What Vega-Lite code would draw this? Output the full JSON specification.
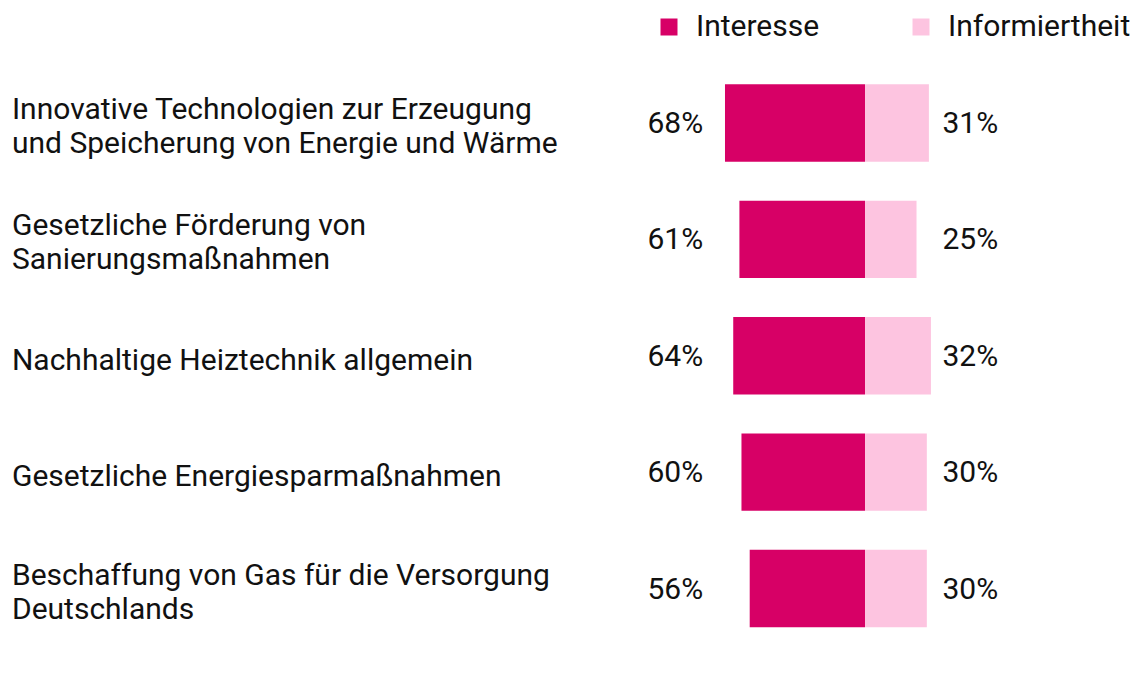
{
  "$schema": "https://vega.github.io/schema/vega-lite/v6.json",
  "width": 1133,
  "height": 677,
  "autosize": "none",
  "padding": 0,
  "background": "white",
  "config": {
    "view": {"stroke": null},
    "font": "Roboto",
    "text": {"font": "Roboto", "color": "#111111"}
  },
  "data": {
    "values": [
      {"cat": "Innovative Technologien zur Erzeugung\nund Speicherung von Energie und Wärme", "series": "Interesse", "value": 68},
      {"cat": "Innovative Technologien zur Erzeugung\nund Speicherung von Energie und Wärme", "series": "Informiertheit", "value": 31},
      {"cat": "Gesetzliche Förderung von\nSanierungsmaßnahmen", "series": "Interesse", "value": 61},
      {"cat": "Gesetzliche Förderung von\nSanierungsmaßnahmen", "series": "Informiertheit", "value": 25},
      {"cat": "Nachhaltige Heiztechnik allgemein", "series": "Interesse", "value": 64},
      {"cat": "Nachhaltige Heiztechnik allgemein", "series": "Informiertheit", "value": 32},
      {"cat": "Gesetzliche Energiesparmaßnahmen", "series": "Interesse", "value": 60},
      {"cat": "Gesetzliche Energiesparmaßnahmen", "series": "Informiertheit", "value": 30},
      {"cat": "Beschaffung von Gas für die Versorgung\nDeutschlands", "series": "Interesse", "value": 56},
      {"cat": "Beschaffung von Gas für die Versorgung\nDeutschlands", "series": "Informiertheit", "value": 30}
    ]
  },
  "encoding": {
    "y": {
      "field": "cat",
      "type": "nominal",
      "sort": null,
      "axis": null,
      "scale": {"range": [64.8, 646.7], "paddingInner": 0.335, "paddingOuter": 0.1675}
    }
  },
  "layer": [
    {
      "transform": [{"filter": "datum.series === 'Interesse'"}],
      "encoding": {
        "x": {
          "field": "value",
          "type": "quantitative",
          "axis": null,
          "scale": {"domain": [-130.1, 420], "reverse": true, "nice": false, "zero": false}
        }
      },
      "layer": [
        {
          "mark": {"type": "bar", "orient": "horizontal"},
          "encoding": {
            "x2": {"datum": 0},
            "color": {
              "field": "series",
              "type": "nominal",
              "scale": {"domain": ["Interesse", "Informiertheit"], "range": ["#D70066", "#FDC4E0"]},
              "legend": {
                "title": null,
                "orient": "none",
                "legendX": 654,
                "legendY": 12,
                "direction": "horizontal",
                "symbolType": "square",
                "symbolSize": 289,
                "symbolStrokeWidth": 0,
                "labelFontSize": 30,
                "labelFont": "Roboto",
                "labelColor": "#111111",
                "labelLimit": 400,
                "labelOffset": 12,
                "columnPadding": 86,
                "symbolOffset": 0
              }
            }
          }
        },
        {
          "mark": {"type": "text", "align": "right", "baseline": "middle", "fontSize": 30, "dy": 1, "text": {"expr": "datum.value + '%'"}},
          "encoding": {
            "x": {"datum": 78.6}
          }
        }
      ]
    },
    {
      "transform": [{"filter": "datum.series === 'Informiertheit'"}],
      "encoding": {
        "x": {
          "field": "value",
          "type": "quantitative",
          "axis": null,
          "scale": {"domain": [-420, 130.1], "nice": false, "zero": false}
        }
      },
      "layer": [
        {
          "mark": {"type": "bar", "orient": "horizontal"},
          "encoding": {
            "x2": {"datum": 0},
            "color": {"field": "series", "type": "nominal"}
          }
        },
        {
          "mark": {"type": "text", "align": "left", "baseline": "middle", "fontSize": 30, "dy": 1, "text": {"expr": "datum.value + '%'"}},
          "encoding": {
            "x": {"datum": 37.6}
          }
        },
        {
          "transform": [{"filter": "indexof(datum.cat, '\\n') >= 0"}],
          "mark": {"type": "text", "align": "left", "baseline": "middle", "fontSize": 30, "lineBreak": "\n", "lineHeight": 34, "dy": -13},
          "encoding": {
            "x": {"datum": -414.2},
            "text": {"field": "cat", "type": "nominal"}
          }
        },
        {
          "transform": [{"filter": "indexof(datum.cat, '\\n') < 0"}],
          "mark": {"type": "text", "align": "left", "baseline": "middle", "fontSize": 30, "dy": 5},
          "encoding": {
            "x": {"datum": -414.2},
            "text": {"field": "cat", "type": "nominal"}
          }
        }
      ]
    }
  ],
  "resolve": {"scale": {"x": "independent"}}
}
